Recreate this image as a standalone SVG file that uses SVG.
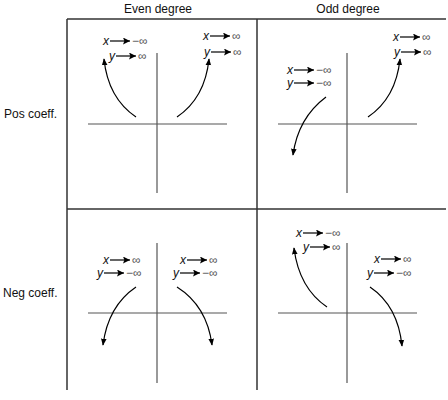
<svg xmlns="http://www.w3.org/2000/svg" width="448" height="400" viewBox="0 0 448 400">
<defs>
<marker id="ah" viewBox="0 0 10 10" refX="9" refY="5" markerWidth="7" markerHeight="7" markerUnits="userSpaceOnUse" orient="auto"><path d="M0,1 L10,5 L0,9 Z" fill="#000"/></marker>
<marker id="sh" viewBox="0 0 10 10" refX="10" refY="5" markerWidth="9" markerHeight="7" markerUnits="userSpaceOnUse" orient="auto"><path d="M0,0 L10,5 L0,10 L2,5 Z" fill="#000"/></marker>
<g id="xn"><text x="0" y="4" class="v">x</text><line x1="7" y1="0" x2="27" y2="0" class="la" marker-end="url(#sh)"/><text x="29" y="4" class="val">−∞</text></g>
<g id="xp"><text x="0" y="4" class="v">x</text><line x1="7" y1="0" x2="27" y2="0" class="la" marker-end="url(#sh)"/><text x="29" y="4" class="val">∞</text></g>
<g id="yn"><text x="0" y="4" class="v">y</text><line x1="7" y1="0" x2="27" y2="0" class="la" marker-end="url(#sh)"/><text x="29" y="4" class="val">−∞</text></g>
<g id="yp"><text x="0" y="4" class="v">y</text><line x1="7" y1="0" x2="27" y2="0" class="la" marker-end="url(#sh)"/><text x="29" y="4" class="val">∞</text></g>
</defs>
<style>
.grid{stroke:#333;stroke-width:1.5;fill:none}
.axis{stroke:#555;stroke-width:1.2;fill:none}
.curve{stroke:#000;stroke-width:1.2;fill:none}
.la{stroke:#000;stroke-width:1.2}
.hd{font-family:"Liberation Sans",Arial,sans-serif;font-size:12px;fill:#111}
.v{font-family:"Liberation Sans",Arial,sans-serif;font-size:12px;font-style:italic;fill:#111}
.val{font-family:"Liberation Sans",Arial,sans-serif;font-size:12px;fill:#555}
</style>
<rect width="448" height="400" fill="#fff"/>
<g id="grid">
<line x1="67" y1="19" x2="446" y2="19" class="grid"/>
<line x1="67" y1="209" x2="446" y2="209" class="grid"/>
<line x1="67" y1="19" x2="67" y2="390" class="grid"/>
<line x1="257" y1="19" x2="257" y2="390" class="grid"/>
</g>
<g id="headers">
<text x="158" y="13" text-anchor="middle" class="hd">Even degree</text>
<text x="348" y="13" text-anchor="middle" class="hd">Odd degree</text>
<text x="4" y="118" class="hd">Pos coeff.</text>
<text x="3" y="297" class="hd">Neg coeff.</text>
</g>
<g id="axes">
<line x1="88" y1="124" x2="227" y2="124" class="axis"/>
<line x1="157" y1="53" x2="157" y2="193" class="axis"/>
<line x1="278" y1="124" x2="417" y2="124" class="axis"/>
<line x1="347" y1="53" x2="347" y2="193" class="axis"/>
<line x1="88" y1="313" x2="227" y2="313" class="axis"/>
<line x1="157" y1="243" x2="157" y2="383" class="axis"/>
<line x1="278" y1="313" x2="417" y2="313" class="axis"/>
<line x1="347" y1="243" x2="347" y2="383" class="axis"/>
</g>
<g id="connectors">
<path d="M136,117 Q108,98 104,59" class="curve" marker-end="url(#ah)"/>
<path d="M177,117 Q205,98 209,59" class="curve" marker-end="url(#ah)"/>
<path d="M368,117 Q396,98 400,59" class="curve" marker-end="url(#ah)"/>
<path d="M326,97 Q298,118 293,155" class="curve" marker-end="url(#ah)"/>
<path d="M136,287 Q108,306 103,345" class="curve" marker-end="url(#ah)"/>
<path d="M177,287 Q207,306 212,345" class="curve" marker-end="url(#ah)"/>
<path d="M327,307 Q299,288 294,248" class="curve" marker-end="url(#ah)"/>
<path d="M370,287 Q398,306 402,346" class="curve" marker-end="url(#ah)"/>
</g>
<g id="q-even-pos">
<use href="#xn" x="103" y="41"/>
<use href="#yp" x="109" y="56"/>
<use href="#xp" x="203" y="36"/>
<use href="#yp" x="204" y="52"/>
</g>
<g id="q-odd-pos">
<use href="#xn" x="287" y="70"/>
<use href="#yn" x="287" y="83"/>
<use href="#xp" x="393" y="37"/>
<use href="#yp" x="394" y="52"/>
</g>
<g id="q-even-neg">
<use href="#xp" x="103" y="260"/>
<use href="#yn" x="97" y="273"/>
<use href="#xp" x="180" y="260"/>
<use href="#yn" x="173" y="273"/>
</g>
<g id="q-odd-neg">
<use href="#xn" x="296" y="233"/>
<use href="#yp" x="303" y="247"/>
<use href="#xp" x="374" y="259"/>
<use href="#yn" x="367" y="273"/>
</g>
</svg>
